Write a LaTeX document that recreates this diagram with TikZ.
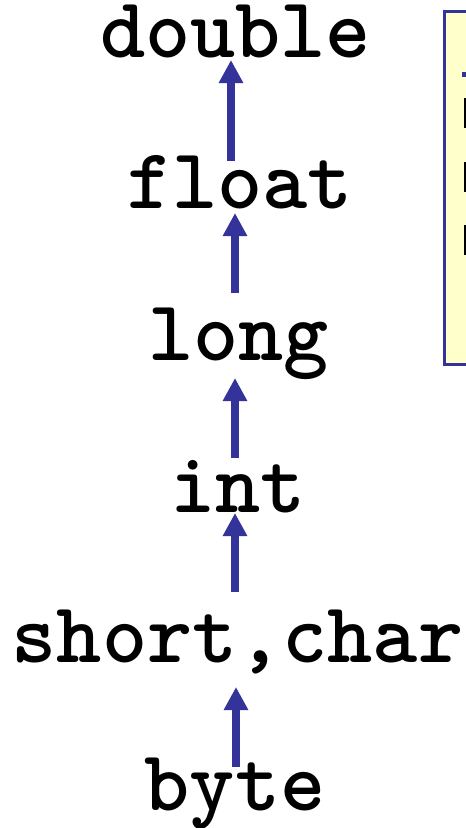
\documentclass[tikz,border=0pt]{standalone}
\usepackage{fontspec}
\usetikzlibrary{arrows.meta}
\definecolor{arrblue}{HTML}{333399}
\definecolor{noteyellow}{HTML}{FFFFCC}
\tikzset{
  typename/.style={inner sep=0pt, text height=0pt, text depth=0pt, anchor=center,
    font=\ttfamily\bfseries\fontsize{86}{86}\selectfont},
  widen/.style={arrblue, line width=8pt, -{Triangle[width=23pt,length=23pt]}},
  notebox/.style={draw=arrblue, line width=3pt, fill=noteyellow}
}
\begin{document}
\begin{tikzpicture}[x=1pt,y=-1pt]
\useasboundingbox (0,0) rectangle (466,828);
\clip (0,0) rectangle (466,828);
% note box (cut off at the right edge)
\draw[notebox] (444.5,11) rectangle (490,364);
\fill[arrblue] (462,72) rectangle (470,77);
\fill[black] (464.3,98) rectangle (470,128);
\fill[black] (464.3,162) rectangle (470,192);
\fill[black] (464.3,225) rectangle (470,255);
% type names (node centre = baseline)
\node[typename] (double) at (235.5,57) {double};
\node[typename] (float)  at (240,208) {float};
\node[typename] (long)   at (238.5,360) {long};
\node[typename] (int)    at (238,512) {int};
\node[typename] (short)  at (237.5,662) {short,char};
\node[typename] (byte)   at (235,810) {byte};
% widening arrows
\draw[widen] ([xshift=-9pt,yshift=47pt]float.center) -- ([xshift=-4.5pt,yshift=-3pt]double.center);
\draw[widen] ([xshift=-3.5pt,yshift=67pt]long.center) -- ([xshift=-5pt,yshift=-5pt]float.center);
\draw[widen] ([xshift=-3pt,yshift=54pt]int.center) -- ([xshift=-3.5pt,yshift=-18pt]long.center);
\draw[widen] ([xshift=-2.5pt,yshift=70pt]short.center) -- ([xshift=-3pt,yshift=-1pt]int.center);
\draw[widen] ([xshift=1pt,yshift=43pt]byte.center) -- ([xshift=-1.5pt,yshift=-25pt]short.center);
\end{tikzpicture}
\end{document}
